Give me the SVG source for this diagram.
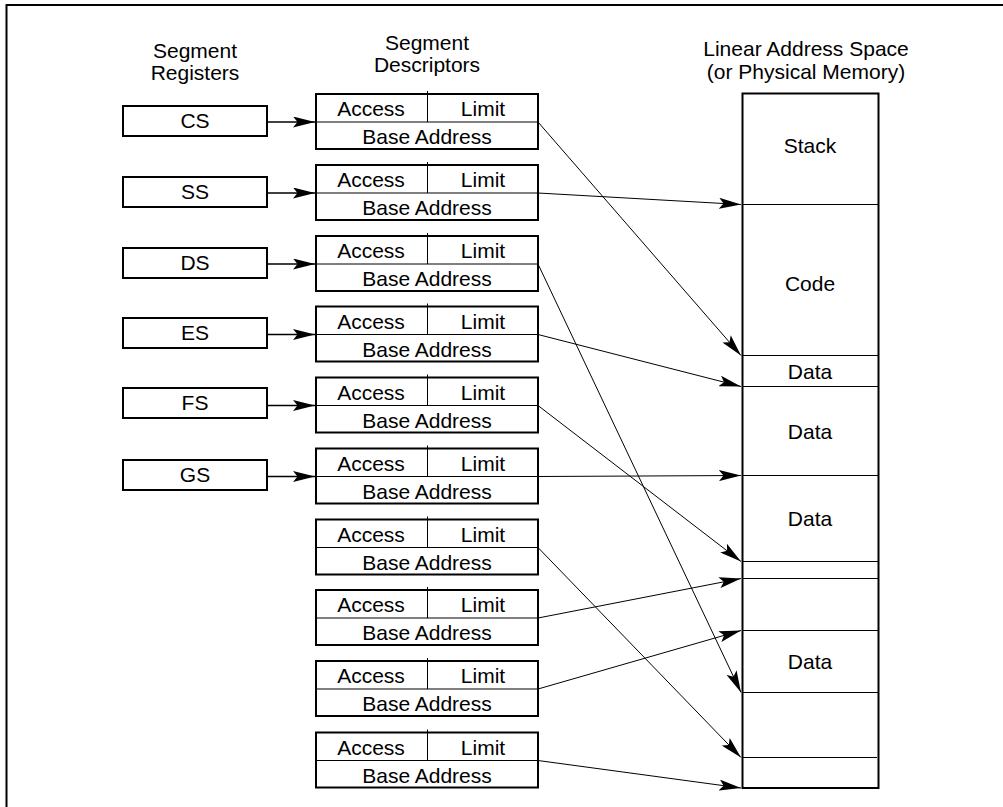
<svg xmlns="http://www.w3.org/2000/svg" width="1003" height="807" viewBox="0 0 1003 807">
<defs>
<style>
text{font-family:"Liberation Sans",Arial,sans-serif;font-size:21px;fill:#000;text-anchor:middle}
.box{fill:#fff;stroke:#000;stroke-width:2}
.thin{stroke:#000;stroke-width:1;fill:none}
.con{stroke:#000;stroke-width:1;fill:none;marker-end:url(#ah)}
.reg{stroke:#000;stroke-width:1.4;fill:none;marker-end:url(#ah)}
</style>
<marker id="ah" markerUnits="userSpaceOnUse" viewBox="0 0 22 11" refX="22" refY="5.5" markerWidth="22" markerHeight="11" orient="auto">
<path d="M0,0 L22,5.5 L0,11 L4.5,5.5 Z" fill="#000"/>
</marker>
</defs>
<rect width="1003" height="807" fill="#fff"/>
<path d="M6.5,808 V5 H1004" fill="none" stroke="#000" stroke-width="2"/>

<g id="headers">
<text x="195" y="58">Segment</text>
<text x="195" y="80">Registers</text>
<text x="427" y="50">Segment</text>
<text x="427" y="72">Descriptors</text>
<text x="806" y="56">Linear Address Space</text>
<text x="806" y="79">(or Physical Memory)</text>
</g>

<g id="reg-cs"><rect class="box" x="123" y="106" width="144" height="30"/><text x="195" y="128">CS</text></g>
<g id="reg-ss"><rect class="box" x="123" y="177" width="144" height="30"/><text x="195" y="199">SS</text></g>
<g id="reg-ds"><rect class="box" x="123" y="248" width="144" height="30"/><text x="195" y="270">DS</text></g>
<g id="reg-es"><rect class="box" x="123" y="318" width="144" height="30"/><text x="195" y="340">ES</text></g>
<g id="reg-fs"><rect class="box" x="123" y="388" width="144" height="30"/><text x="195" y="410">FS</text></g>
<g id="reg-gs"><rect class="box" x="123" y="460" width="144" height="30"/><text x="195" y="482">GS</text></g>

<g id="desc-1"><rect class="box" x="316" y="94" width="222" height="55"/><path class="thin" d="M316,122 H538 M427.5,91 V122"/><text x="371" y="116">Access</text><text x="483" y="116">Limit</text><text x="427" y="144">Base Address</text></g>
<g id="desc-2"><rect class="box" x="316" y="165" width="222" height="55"/><path class="thin" d="M316,193 H538 M427.5,162 V193"/><text x="371" y="187">Access</text><text x="483" y="187">Limit</text><text x="427" y="215">Base Address</text></g>
<g id="desc-3"><rect class="box" x="316" y="236" width="222" height="55"/><path class="thin" d="M316,264 H538 M427.5,233 V264"/><text x="371" y="258">Access</text><text x="483" y="258">Limit</text><text x="427" y="286">Base Address</text></g>
<g id="desc-4"><rect class="box" x="316" y="306.5" width="222" height="55"/><path class="thin" d="M316,334.5 H538 M427.5,303.5 V334.5"/><text x="371" y="328.5">Access</text><text x="483" y="328.5">Limit</text><text x="427" y="356.5">Base Address</text></g>
<g id="desc-5"><rect class="box" x="316" y="377.5" width="222" height="55"/><path class="thin" d="M316,405.5 H538 M427.5,374.5 V405.5"/><text x="371" y="399.5">Access</text><text x="483" y="399.5">Limit</text><text x="427" y="427.5">Base Address</text></g>
<g id="desc-6"><rect class="box" x="316" y="448.5" width="222" height="55"/><path class="thin" d="M316,476.5 H538 M427.5,445.5 V476.5"/><text x="371" y="470.5">Access</text><text x="483" y="470.5">Limit</text><text x="427" y="498.5">Base Address</text></g>
<g id="desc-7"><rect class="box" x="316" y="519.5" width="222" height="55"/><path class="thin" d="M316,547.5 H538 M427.5,516.5 V547.5"/><text x="371" y="541.5">Access</text><text x="483" y="541.5">Limit</text><text x="427" y="569.5">Base Address</text></g>
<g id="desc-8"><rect class="box" x="316" y="590" width="222" height="55"/><path class="thin" d="M316,618 H538 M427.5,587 V618"/><text x="371" y="612">Access</text><text x="483" y="612">Limit</text><text x="427" y="640">Base Address</text></g>
<g id="desc-9"><rect class="box" x="316" y="661" width="222" height="55"/><path class="thin" d="M316,689 H538 M427.5,658 V689"/><text x="371" y="683">Access</text><text x="483" y="683">Limit</text><text x="427" y="711">Base Address</text></g>
<g id="desc-10"><rect class="box" x="316" y="732.5" width="222" height="55"/><path class="thin" d="M316,760.5 H538 M427.5,729.5 V760.5"/><text x="371" y="754.5">Access</text><text x="483" y="754.5">Limit</text><text x="427" y="782.5">Base Address</text></g>

<g id="memory">
<rect class="box" x="742.5" y="93.5" width="136" height="694.5"/>
<path class="thin" d="M742.5,204.5 H878.5 M742.5,355.5 H878.5 M742.5,386.5 H878.5 M742.5,475.5 H878.5 M742.5,561.5 H878.5 M742.5,578.5 H878.5 M742.5,630.5 H878.5 M742.5,692.5 H878.5 M742.5,757.5 H877"/>
<text x="810" y="153">Stack</text>
<text x="810" y="291">Code</text>
<text x="810" y="379">Data</text>
<text x="810" y="439">Data</text>
<text x="810" y="526">Data</text>
<text x="810" y="669">Data</text>
</g>

<g id="connectors">
<line class="reg" x1="267" y1="122" x2="315" y2="122"/>
<line class="reg" x1="267" y1="193" x2="315" y2="193"/>
<line class="reg" x1="267" y1="264" x2="315" y2="264"/>
<line class="reg" x1="267" y1="334.5" x2="315" y2="334.5"/>
<line class="reg" x1="267" y1="405.5" x2="315" y2="405.5"/>
<line class="reg" x1="267" y1="476.5" x2="315" y2="476.5"/>
<line class="con" x1="538" y1="122" x2="741" y2="355.5"/>
<line class="con" x1="538" y1="193" x2="741" y2="204.5"/>
<line class="con" x1="538" y1="264" x2="741" y2="692.5"/>
<line class="con" x1="538" y1="334.5" x2="741" y2="386.5"/>
<line class="con" x1="538" y1="405.5" x2="741" y2="561.5"/>
<line class="con" x1="538" y1="476.5" x2="741" y2="475.5"/>
<line class="con" x1="538" y1="547.5" x2="741" y2="757.5"/>
<line class="con" x1="538" y1="618" x2="741" y2="578.5"/>
<line class="con" x1="538" y1="689" x2="741" y2="630.5"/>
<line class="con" x1="538" y1="760.5" x2="741" y2="788"/>
</g>
</svg>
